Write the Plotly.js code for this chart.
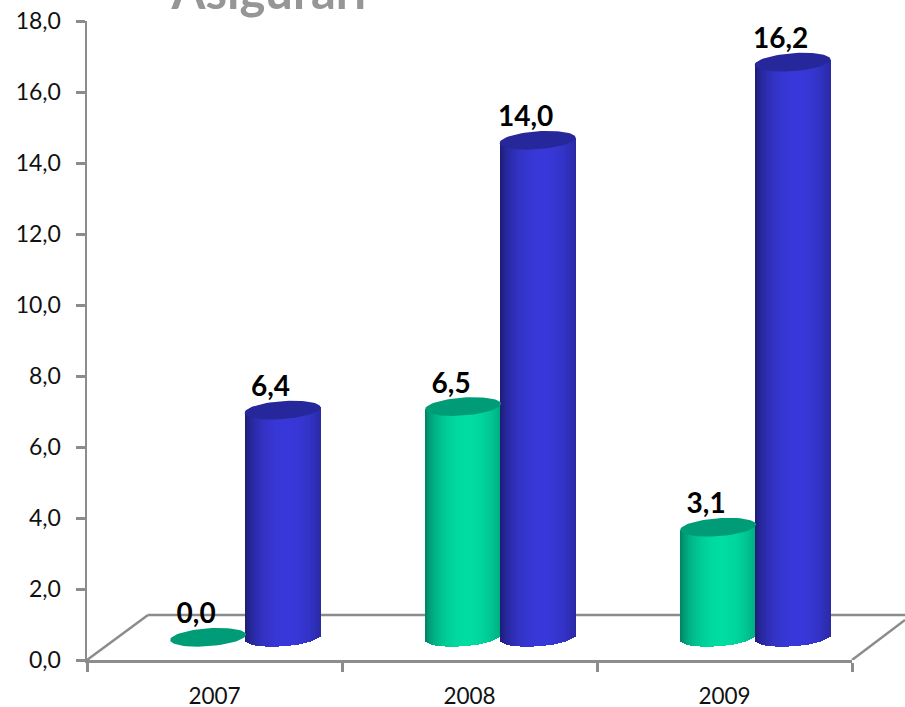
<!DOCTYPE html>
<html>
<head>
<meta charset="utf-8">
<script src="https://cdn.plot.ly/plotly-3.0.1.min.js"></script>
<style>html,body{margin:0;padding:0;background:#fff;overflow:hidden}#chart{width:905px;height:707px}</style>
</head>
<body>
<div id="chart"></div>
<script>
const years = ['2007', '2008', '2009'];
const greenValues = [0.0, 6.5, 3.1];
const blueValues = [6.4, 14.0, 16.2];
const yTicks = [0, 2, 4, 6, 8, 10, 12, 14, 16, 18];

const pxX = 255, pxY = 35.5;          // pixels per category / per unit
const radius = 38 / pxX;              // cylinder half width
const ellipseH = 9 / pxY;             // ellipse half height
const tilt = 0.07 * (pxX / pxY);      // ellipse tilt (units per category)
const floorOffset = 0.64;             // pseudo-3D floor lift
const greenShift = -0.025, blueShift = 0.267;
const stripCount = 38;

function shade(edge, mid, t) {
  const k = Math.sqrt(Math.max(0, 1 - Math.pow((t - 0.1) / 1.1, 2)));
  const p = Math.pow(k, 1.3);
  return 'rgb(' + edge.map((e, i) => Math.round(e + (mid[i] - e) * p)).join(',') + ')';
}
function cylinderBody(values, shift, edge, mid, name) {
  const x = [], base = [], y = [], w = [], c = [];
  values.forEach((v, i) => {
    if (v <= 0) return;
    const cx = i + shift, step = 2 * radius / stripCount;
    for (let s = 0; s < stripCount; s++) {
      const t = -1 + (2 * s + 1) / stripCount;
      const dx = t * radius;
      const bottom = floorOffset + tilt * dx - ellipseH * Math.sqrt(1 - t * t);
      const top = v + floorOffset + tilt * dx;
      x.push(cx + dx); base.push(bottom); y.push(top - bottom);
      w.push(step * 1.02); c.push(shade(edge, mid, t));
    }
  });
  return {type: 'bar', name, x, y, base, width: w, marker: {color: c, line: {width: 0}},
          hoverinfo: 'skip', showlegend: false};
}
function cylinderTops(values, shift, color, name) {
  const x = [], y = [];
  values.forEach((v, i) => {
    for (let a = 0; a <= 72; a++) {
      const th = a * Math.PI / 36, dx = radius * Math.cos(th);
      x.push(i + shift + dx);
      y.push(v + floorOffset + tilt * dx + ellipseH * Math.sin(th));
    }
    x.push(null); y.push(null);
  });
  return {type: 'scatter', mode: 'lines', name, x, y, fill: 'toself', fillcolor: color,
          line: {width: 0, color: color}, hoverinfo: 'skip', showlegend: false};
}
function labels(values, shift, name) {
  return {type: 'scatter', mode: 'text', name,
    x: values.map((v, i) => i + shift - 12 / pxX),
    y: values.map(v => v + floorOffset + 21 / pxY),
    text: values.map(v => v.toFixed(1).replace('.', ',')),
    textposition: 'middle center',
    textfont: {family: 'Lato, "Open Sans", sans-serif', size: 28, color: '#000', weight: 'bold'},
    hoverinfo: 'skip', showlegend: false, cliponaxis: false};
}

const traces = [
  cylinderBody(greenValues, greenShift, [0, 122, 94], [0, 220, 162], 'green body'),
  cylinderTops(greenValues, greenShift, '#009c78', 'green top'),
  cylinderBody(blueValues, blueShift, [26, 26, 108], [56, 56, 218], 'blue body'),
  cylinderTops(blueValues, blueShift, '#27279c', 'blue top'),
  labels(greenValues, greenShift, 'green labels'),
  labels(blueValues, blueShift, 'blue labels')
];

const gridColor = '#8c8c8c';
const wallY = 45 / pxY;
const floorShapes = [
  {x0: 0, x1: 61 / 765, y0: 0, y1: wallY},
  {x0: 61 / 765, x1: 818 / 765, y0: wallY, y1: wallY},
  {x0: 1, x1: 818 / 765, y0: 0, y1: 40 / pxY}
].map(s => Object.assign({type: 'line', xref: 'paper', yref: 'y', layer: 'below',
        line: {color: gridColor, width: 2.5}}, s));

const layout = {
  width: 905, height: 707,
  margin: {l: 87, r: 53, t: 21, b: 47, pad: 0},
  paper_bgcolor: '#fff', plot_bgcolor: 'rgba(0,0,0,0)',
  barmode: 'overlay', bargap: 0,
  showlegend: false,
  title: {text: 'Asigurari', x: 269 / 905, xanchor: 'center', y: 1 - 9 / 707, yanchor: 'bottom',
          font: {family: 'Lato, "Open Sans", sans-serif', size: 49, color: '#969696', weight: 'bold'}},
  font: {family: 'Lato, "Open Sans", sans-serif', size: 23, color: '#000'},
  xaxis: {
    type: 'linear', range: [-0.5, 2.5], showgrid: false, zeroline: false,
    showline: true, linecolor: gridColor, linewidth: 2.5,
    tickmode: 'array', tickvals: years.map((_, i) => i), ticktext: years, ticks: '',
    ticklabelstandoff: 14,
    tickfont: {family: 'Lato, "Open Sans", sans-serif', size: 22.5, color: '#111'},
    minor: {tickmode: 'array', tickvals: [-0.5, 0.5, 1.5, 2.5], ticks: 'outside', ticklen: 9, tickwidth: 3,
            tickcolor: gridColor, showgrid: false}
  },
  yaxis: {
    range: [0, 18], showgrid: false, zeroline: false,
    showline: true, linecolor: gridColor, linewidth: 2.5,
    tickmode: 'array', tickvals: yTicks, ticktext: yTicks.map(v => v.toFixed(1).replace('.', ',')),
    ticks: 'outside', ticklen: 9, tickwidth: 3, tickcolor: gridColor,
    ticklabelstandoff: 10,
    tickfont: {family: 'Lato, "Open Sans", sans-serif', size: 23, color: '#111'}
  },
  shapes: floorShapes
};
Plotly.newPlot('chart', traces, layout, {displayModeBar: false, staticPlot: true});
</script>
</body>
</html>
